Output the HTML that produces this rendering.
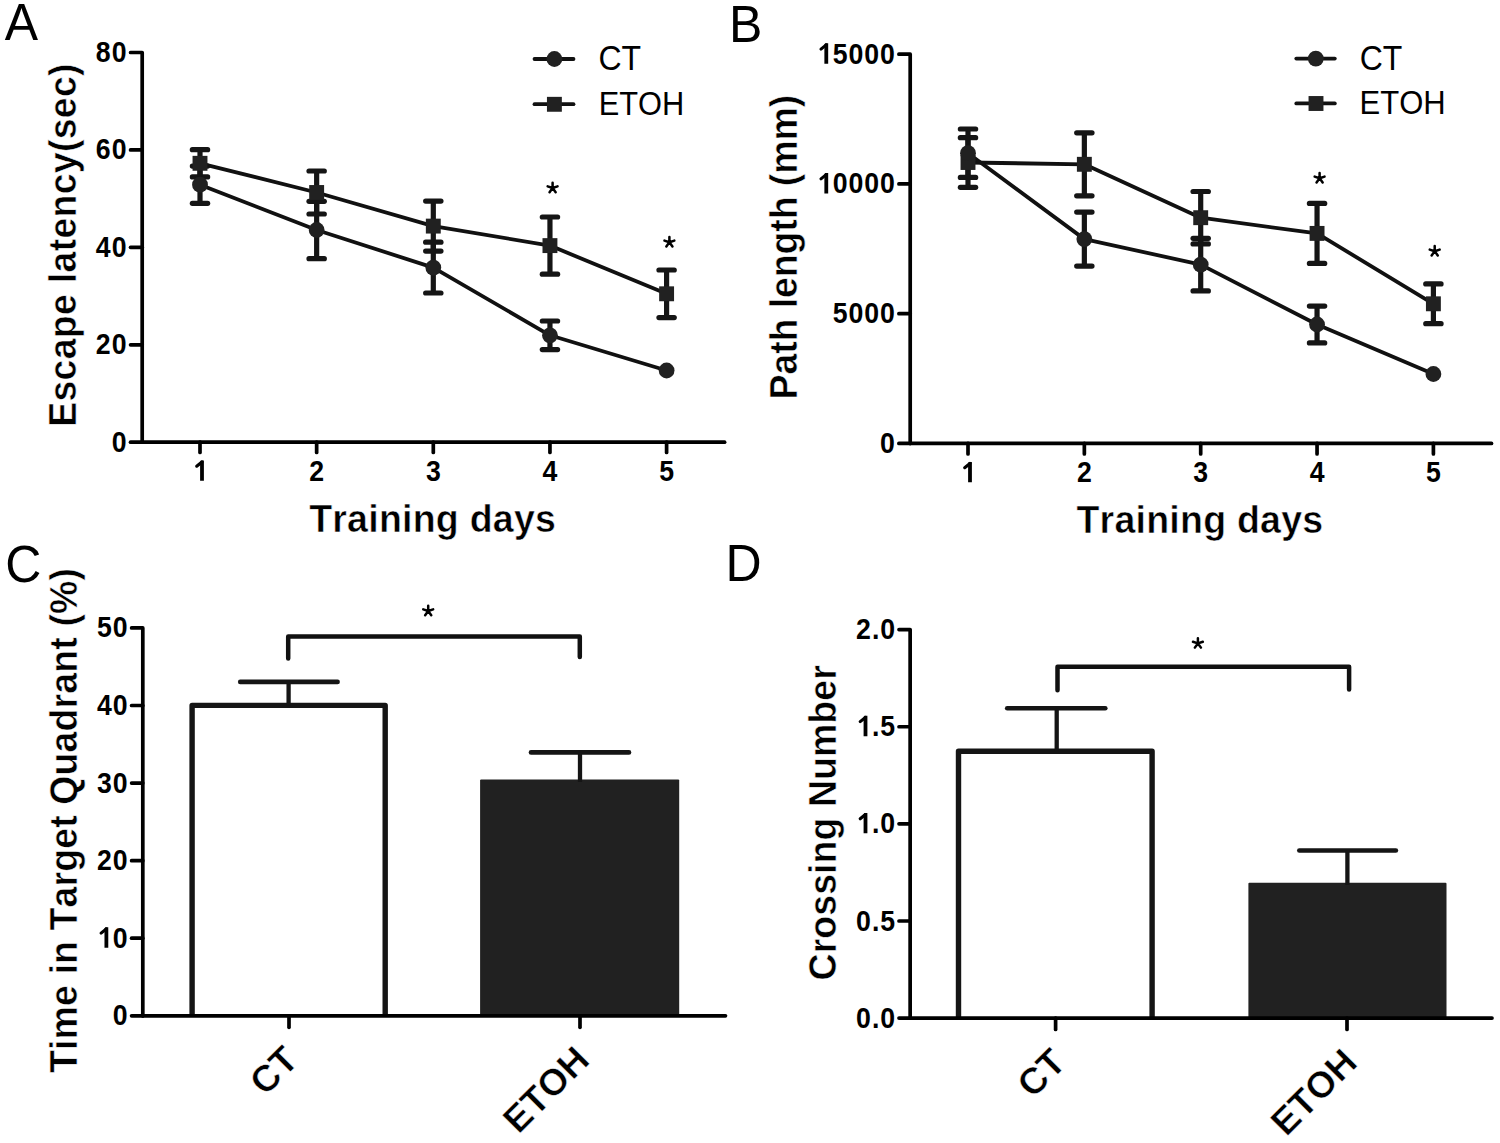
<!DOCTYPE html>
<html><head><meta charset="utf-8"><title>Figure</title>
<style>html,body{margin:0;padding:0;background:#fff;}svg{display:block;}
text{font-family:"Liberation Sans",sans-serif;fill:#000;font-kerning:none;}
text.b{stroke:#fff;stroke-width:0.5px;stroke-linejoin:round;}</style></head>
<body>
<svg width="1500" height="1143" viewBox="0 0 1500 1143">
<rect width="1500" height="1143" fill="#fff"/>
<text transform="translate(4.80,39.50) scale(1.0,1.02)" font-size="50" text-anchor="start" font-weight="normal" >A</text>
<path d="M130.55,52.50 L142.20,52.50 L142.20,442.22" fill="none" stroke="#000" stroke-width="3.7" stroke-linecap="round" stroke-linejoin="round"/>
<text transform="translate(127.47,62.01) scale(0.97,1.09)" font-size="27.5" text-anchor="end" font-weight="bold" letter-spacing="1.0" >80</text>
<line x1="130.55" y1="149.93" x2="142.20" y2="149.93" stroke="#000" stroke-width="3.7" stroke-linecap="round"/>
<text transform="translate(127.47,159.44) scale(0.97,1.09)" font-size="27.5" text-anchor="end" font-weight="bold" letter-spacing="1.0" >60</text>
<line x1="130.55" y1="247.36" x2="142.20" y2="247.36" stroke="#000" stroke-width="3.7" stroke-linecap="round"/>
<text transform="translate(127.47,256.87) scale(0.97,1.09)" font-size="27.5" text-anchor="end" font-weight="bold" letter-spacing="1.0" >40</text>
<line x1="130.55" y1="344.79" x2="142.20" y2="344.79" stroke="#000" stroke-width="3.7" stroke-linecap="round"/>
<text transform="translate(127.47,354.30) scale(0.97,1.09)" font-size="27.5" text-anchor="end" font-weight="bold" letter-spacing="1.0" >20</text>
<line x1="130.55" y1="442.22" x2="142.20" y2="442.22" stroke="#000" stroke-width="3.7" stroke-linecap="round"/>
<text transform="translate(127.47,451.73) scale(0.97,1.09)" font-size="27.5" text-anchor="end" font-weight="bold" letter-spacing="1.0" >0</text>
<line x1="142.20" y1="442.22" x2="724.60" y2="442.22" stroke="#000" stroke-width="3.7" stroke-linecap="round"/>
<line x1="200.00" y1="442.22" x2="200.00" y2="452.50" stroke="#000" stroke-width="3.7" stroke-linecap="round"/>
<line x1="316.65" y1="442.22" x2="316.65" y2="452.50" stroke="#000" stroke-width="3.7" stroke-linecap="round"/>
<line x1="433.30" y1="442.22" x2="433.30" y2="452.50" stroke="#000" stroke-width="3.7" stroke-linecap="round"/>
<line x1="549.95" y1="442.22" x2="549.95" y2="452.50" stroke="#000" stroke-width="3.7" stroke-linecap="round"/>
<line x1="666.60" y1="442.22" x2="666.60" y2="452.50" stroke="#000" stroke-width="3.7" stroke-linecap="round"/>
<text transform="translate(200.49,480.80) scale(0.97,1.09)" font-size="27.5" text-anchor="middle" font-weight="bold" letter-spacing="1.0" > </text>
<g transform="translate(200.00,480.80)"><path d="M0.1,0 L3.9,0 L3.9,-20.4 L0.9,-20.4 L0.1,-19.2 Z" fill="#000"/><line x1="1.9" y1="-18.8" x2="-3.3" y2="-14.6" stroke="#000" stroke-width="3.1" stroke-linecap="round"/></g>
<text transform="translate(317.13,480.80) scale(0.97,1.09)" font-size="27.5" text-anchor="middle" font-weight="bold" letter-spacing="1.0" >2</text>
<text transform="translate(433.79,480.80) scale(0.97,1.09)" font-size="27.5" text-anchor="middle" font-weight="bold" letter-spacing="1.0" >3</text>
<text transform="translate(550.44,480.80) scale(0.97,1.09)" font-size="27.5" text-anchor="middle" font-weight="bold" letter-spacing="1.0" >4</text>
<text transform="translate(667.09,480.80) scale(0.97,1.09)" font-size="27.5" text-anchor="middle" font-weight="bold" letter-spacing="1.0" >5</text>
<text class="b" transform="translate(75.70,245.00) rotate(-90) scale(1,1.03)" font-size="37.5" font-weight="bold" text-anchor="middle" letter-spacing="0.28">Escape latency(sec)</text>
<text class="b" transform="translate(432.60,532.30) scale(1.0,1.03)" font-size="37.5" text-anchor="middle" font-weight="bold" letter-spacing="0.25" >Training days</text>
<line x1="534.50" y1="59.00" x2="573.50" y2="59.00" stroke="#111" stroke-width="3.8" stroke-linecap="round"/>
<circle cx="554.40" cy="59.00" r="7.9" fill="#212121"/>
<line x1="534.50" y1="104.20" x2="573.50" y2="104.20" stroke="#111" stroke-width="3.8" stroke-linecap="round"/>
<rect x="546.95" y="96.85" width="14.9" height="14.9" fill="#212121"/>
<text transform="translate(598.50,69.90) scale(1.0,1.075)" font-size="32" text-anchor="start" font-weight="normal" >CT</text>
<text transform="translate(598.70,114.60) scale(0.962,1.035)" font-size="32" text-anchor="start" font-weight="normal" >ETOH</text>
<line x1="200.00" y1="149.70" x2="200.00" y2="176.90" stroke="#151515" stroke-width="5.2" stroke-linecap="butt"/>
<line x1="192.35" y1="149.70" x2="207.65" y2="149.70" stroke="#151515" stroke-width="5.2" stroke-linecap="round"/>
<line x1="192.35" y1="176.90" x2="207.65" y2="176.90" stroke="#151515" stroke-width="5.2" stroke-linecap="round"/>
<line x1="316.65" y1="171.00" x2="316.65" y2="214.00" stroke="#151515" stroke-width="5.2" stroke-linecap="butt"/>
<line x1="309.00" y1="171.00" x2="324.30" y2="171.00" stroke="#151515" stroke-width="5.2" stroke-linecap="round"/>
<line x1="309.00" y1="214.00" x2="324.30" y2="214.00" stroke="#151515" stroke-width="5.2" stroke-linecap="round"/>
<line x1="433.30" y1="201.10" x2="433.30" y2="251.10" stroke="#151515" stroke-width="5.2" stroke-linecap="butt"/>
<line x1="425.65" y1="201.10" x2="440.95" y2="201.10" stroke="#151515" stroke-width="5.2" stroke-linecap="round"/>
<line x1="425.65" y1="251.10" x2="440.95" y2="251.10" stroke="#151515" stroke-width="5.2" stroke-linecap="round"/>
<line x1="549.95" y1="217.00" x2="549.95" y2="274.20" stroke="#151515" stroke-width="5.2" stroke-linecap="butt"/>
<line x1="542.30" y1="217.00" x2="557.60" y2="217.00" stroke="#151515" stroke-width="5.2" stroke-linecap="round"/>
<line x1="542.30" y1="274.20" x2="557.60" y2="274.20" stroke="#151515" stroke-width="5.2" stroke-linecap="round"/>
<line x1="666.60" y1="270.00" x2="666.60" y2="317.60" stroke="#151515" stroke-width="5.2" stroke-linecap="butt"/>
<line x1="658.95" y1="270.00" x2="674.25" y2="270.00" stroke="#151515" stroke-width="5.2" stroke-linecap="round"/>
<line x1="658.95" y1="317.60" x2="674.25" y2="317.60" stroke="#151515" stroke-width="5.2" stroke-linecap="round"/>
<line x1="200.00" y1="166.10" x2="200.00" y2="203.30" stroke="#151515" stroke-width="5.2" stroke-linecap="butt"/>
<line x1="192.35" y1="166.10" x2="207.65" y2="166.10" stroke="#151515" stroke-width="5.2" stroke-linecap="round"/>
<line x1="192.35" y1="203.30" x2="207.65" y2="203.30" stroke="#151515" stroke-width="5.2" stroke-linecap="round"/>
<line x1="316.65" y1="201.30" x2="316.65" y2="258.70" stroke="#151515" stroke-width="5.2" stroke-linecap="butt"/>
<line x1="309.00" y1="201.30" x2="324.30" y2="201.30" stroke="#151515" stroke-width="5.2" stroke-linecap="round"/>
<line x1="309.00" y1="258.70" x2="324.30" y2="258.70" stroke="#151515" stroke-width="5.2" stroke-linecap="round"/>
<line x1="433.30" y1="242.20" x2="433.30" y2="293.00" stroke="#151515" stroke-width="5.2" stroke-linecap="butt"/>
<line x1="425.65" y1="242.20" x2="440.95" y2="242.20" stroke="#151515" stroke-width="5.2" stroke-linecap="round"/>
<line x1="425.65" y1="293.00" x2="440.95" y2="293.00" stroke="#151515" stroke-width="5.2" stroke-linecap="round"/>
<line x1="549.95" y1="321.00" x2="549.95" y2="349.60" stroke="#151515" stroke-width="5.2" stroke-linecap="butt"/>
<line x1="542.30" y1="321.00" x2="557.60" y2="321.00" stroke="#151515" stroke-width="5.2" stroke-linecap="round"/>
<line x1="542.30" y1="349.60" x2="557.60" y2="349.60" stroke="#151515" stroke-width="5.2" stroke-linecap="round"/>
<polyline points="200.00,163.30 316.65,192.50 433.30,226.10 549.95,245.60 666.60,293.80" fill="none" stroke="#111" stroke-width="3.8" stroke-linejoin="round"/>
<polyline points="200.00,184.70 316.65,230.00 433.30,267.60 549.95,335.30 666.60,370.50" fill="none" stroke="#111" stroke-width="3.8" stroke-linejoin="round"/>
<rect x="192.55" y="155.85" width="14.9" height="14.9" fill="#212121"/>
<rect x="309.20" y="185.05" width="14.9" height="14.9" fill="#212121"/>
<rect x="425.85" y="218.65" width="14.9" height="14.9" fill="#212121"/>
<rect x="542.50" y="238.15" width="14.9" height="14.9" fill="#212121"/>
<rect x="659.15" y="286.35" width="14.9" height="14.9" fill="#212121"/>
<circle cx="200.00" cy="184.70" r="7.9" fill="#212121"/>
<circle cx="316.65" cy="230.00" r="7.9" fill="#212121"/>
<circle cx="433.30" cy="267.60" r="7.9" fill="#212121"/>
<circle cx="549.95" cy="335.30" r="7.9" fill="#212121"/>
<circle cx="666.60" cy="370.50" r="7.9" fill="#212121"/>
<path d="M552.60,188.00 L552.60,182.80 M552.60,188.00 L557.55,186.39 M552.60,188.00 L555.66,192.21 M552.60,188.00 L549.54,192.21 M552.60,188.00 L547.65,186.39" stroke="#000" stroke-width="2.5" stroke-linecap="round" fill="none"/>
<path d="M669.40,242.20 L669.40,237.00 M669.40,242.20 L674.35,240.59 M669.40,242.20 L672.46,246.41 M669.40,242.20 L666.34,246.41 M669.40,242.20 L664.45,240.59" stroke="#000" stroke-width="2.5" stroke-linecap="round" fill="none"/>
<text transform="translate(729.00,41.50) scale(1.0,1.02)" font-size="50" text-anchor="start" font-weight="normal" >B</text>
<path d="M898.90,54.20 L910.20,54.20 L910.20,443.39" fill="none" stroke="#000" stroke-width="3.7" stroke-linecap="round" stroke-linejoin="round"/>
<text transform="translate(895.87,63.71) scale(0.97,1.09)" font-size="27.5" text-anchor="end" font-weight="bold" letter-spacing="1.0" > 5000</text>
<g transform="translate(824.28,63.71)"><path d="M0.1,0 L3.9,0 L3.9,-20.4 L0.9,-20.4 L0.1,-19.2 Z" fill="#000"/><line x1="1.9" y1="-18.8" x2="-3.3" y2="-14.6" stroke="#000" stroke-width="3.1" stroke-linecap="round"/></g>
<line x1="898.90" y1="183.93" x2="910.20" y2="183.93" stroke="#000" stroke-width="3.7" stroke-linecap="round"/>
<text transform="translate(895.87,193.44) scale(0.97,1.09)" font-size="27.5" text-anchor="end" font-weight="bold" letter-spacing="1.0" > 0000</text>
<g transform="translate(824.28,193.44)"><path d="M0.1,0 L3.9,0 L3.9,-20.4 L0.9,-20.4 L0.1,-19.2 Z" fill="#000"/><line x1="1.9" y1="-18.8" x2="-3.3" y2="-14.6" stroke="#000" stroke-width="3.1" stroke-linecap="round"/></g>
<line x1="898.90" y1="313.66" x2="910.20" y2="313.66" stroke="#000" stroke-width="3.7" stroke-linecap="round"/>
<text transform="translate(895.87,323.17) scale(0.97,1.09)" font-size="27.5" text-anchor="end" font-weight="bold" letter-spacing="1.0" >5000</text>
<line x1="898.90" y1="443.39" x2="910.20" y2="443.39" stroke="#000" stroke-width="3.7" stroke-linecap="round"/>
<text transform="translate(895.87,452.90) scale(0.97,1.09)" font-size="27.5" text-anchor="end" font-weight="bold" letter-spacing="1.0" >0</text>
<line x1="910.20" y1="443.39" x2="1491.50" y2="443.39" stroke="#000" stroke-width="3.7" stroke-linecap="round"/>
<line x1="968.00" y1="443.39" x2="968.00" y2="454.00" stroke="#000" stroke-width="3.7" stroke-linecap="round"/>
<line x1="1084.35" y1="443.39" x2="1084.35" y2="454.00" stroke="#000" stroke-width="3.7" stroke-linecap="round"/>
<line x1="1200.70" y1="443.39" x2="1200.70" y2="454.00" stroke="#000" stroke-width="3.7" stroke-linecap="round"/>
<line x1="1317.05" y1="443.39" x2="1317.05" y2="454.00" stroke="#000" stroke-width="3.7" stroke-linecap="round"/>
<line x1="1433.40" y1="443.39" x2="1433.40" y2="454.00" stroke="#000" stroke-width="3.7" stroke-linecap="round"/>
<text transform="translate(968.49,482.30) scale(0.97,1.09)" font-size="27.5" text-anchor="middle" font-weight="bold" letter-spacing="1.0" > </text>
<g transform="translate(968.00,482.30)"><path d="M0.1,0 L3.9,0 L3.9,-20.4 L0.9,-20.4 L0.1,-19.2 Z" fill="#000"/><line x1="1.9" y1="-18.8" x2="-3.3" y2="-14.6" stroke="#000" stroke-width="3.1" stroke-linecap="round"/></g>
<text transform="translate(1084.83,482.30) scale(0.97,1.09)" font-size="27.5" text-anchor="middle" font-weight="bold" letter-spacing="1.0" >2</text>
<text transform="translate(1201.18,482.30) scale(0.97,1.09)" font-size="27.5" text-anchor="middle" font-weight="bold" letter-spacing="1.0" >3</text>
<text transform="translate(1317.53,482.30) scale(0.97,1.09)" font-size="27.5" text-anchor="middle" font-weight="bold" letter-spacing="1.0" >4</text>
<text transform="translate(1433.88,482.30) scale(0.97,1.09)" font-size="27.5" text-anchor="middle" font-weight="bold" letter-spacing="1.0" >5</text>
<text class="b" transform="translate(797.40,247.20) rotate(-90) scale(1,1.03)" font-size="37.5" font-weight="bold" text-anchor="middle" letter-spacing="-0.1">Path length (mm)</text>
<text class="b" transform="translate(1199.90,533.30) scale(1.0,1.03)" font-size="37.5" text-anchor="middle" font-weight="bold" letter-spacing="0.25" >Training days</text>
<line x1="1296.30" y1="58.60" x2="1334.80" y2="58.60" stroke="#111" stroke-width="3.8" stroke-linecap="round"/>
<circle cx="1315.80" cy="58.60" r="7.9" fill="#212121"/>
<line x1="1296.30" y1="103.40" x2="1334.80" y2="103.40" stroke="#111" stroke-width="3.8" stroke-linecap="round"/>
<rect x="1308.55" y="96.05" width="14.9" height="14.9" fill="#212121"/>
<text transform="translate(1359.70,69.50) scale(1.0,1.075)" font-size="32" text-anchor="start" font-weight="normal" >CT</text>
<text transform="translate(1359.60,114.00) scale(0.97,1.035)" font-size="32" text-anchor="start" font-weight="normal" >ETOH</text>
<line x1="968.00" y1="137.70" x2="968.00" y2="187.30" stroke="#151515" stroke-width="5.2" stroke-linecap="butt"/>
<line x1="960.35" y1="137.70" x2="975.65" y2="137.70" stroke="#151515" stroke-width="5.2" stroke-linecap="round"/>
<line x1="960.35" y1="187.30" x2="975.65" y2="187.30" stroke="#151515" stroke-width="5.2" stroke-linecap="round"/>
<line x1="1084.35" y1="132.80" x2="1084.35" y2="195.80" stroke="#151515" stroke-width="5.2" stroke-linecap="butt"/>
<line x1="1076.70" y1="132.80" x2="1092.00" y2="132.80" stroke="#151515" stroke-width="5.2" stroke-linecap="round"/>
<line x1="1076.70" y1="195.80" x2="1092.00" y2="195.80" stroke="#151515" stroke-width="5.2" stroke-linecap="round"/>
<line x1="1200.70" y1="191.50" x2="1200.70" y2="243.90" stroke="#151515" stroke-width="5.2" stroke-linecap="butt"/>
<line x1="1193.05" y1="191.50" x2="1208.35" y2="191.50" stroke="#151515" stroke-width="5.2" stroke-linecap="round"/>
<line x1="1193.05" y1="243.90" x2="1208.35" y2="243.90" stroke="#151515" stroke-width="5.2" stroke-linecap="round"/>
<line x1="1317.05" y1="203.40" x2="1317.05" y2="263.40" stroke="#151515" stroke-width="5.2" stroke-linecap="butt"/>
<line x1="1309.40" y1="203.40" x2="1324.70" y2="203.40" stroke="#151515" stroke-width="5.2" stroke-linecap="round"/>
<line x1="1309.40" y1="263.40" x2="1324.70" y2="263.40" stroke="#151515" stroke-width="5.2" stroke-linecap="round"/>
<line x1="1433.40" y1="283.90" x2="1433.40" y2="323.70" stroke="#151515" stroke-width="5.2" stroke-linecap="butt"/>
<line x1="1425.75" y1="283.90" x2="1441.05" y2="283.90" stroke="#151515" stroke-width="5.2" stroke-linecap="round"/>
<line x1="1425.75" y1="323.70" x2="1441.05" y2="323.70" stroke="#151515" stroke-width="5.2" stroke-linecap="round"/>
<line x1="968.00" y1="129.00" x2="968.00" y2="177.40" stroke="#151515" stroke-width="5.2" stroke-linecap="butt"/>
<line x1="960.35" y1="129.00" x2="975.65" y2="129.00" stroke="#151515" stroke-width="5.2" stroke-linecap="round"/>
<line x1="960.35" y1="177.40" x2="975.65" y2="177.40" stroke="#151515" stroke-width="5.2" stroke-linecap="round"/>
<line x1="1084.35" y1="212.10" x2="1084.35" y2="266.10" stroke="#151515" stroke-width="5.2" stroke-linecap="butt"/>
<line x1="1076.70" y1="212.10" x2="1092.00" y2="212.10" stroke="#151515" stroke-width="5.2" stroke-linecap="round"/>
<line x1="1076.70" y1="266.10" x2="1092.00" y2="266.10" stroke="#151515" stroke-width="5.2" stroke-linecap="round"/>
<line x1="1200.70" y1="238.30" x2="1200.70" y2="290.90" stroke="#151515" stroke-width="5.2" stroke-linecap="butt"/>
<line x1="1193.05" y1="238.30" x2="1208.35" y2="238.30" stroke="#151515" stroke-width="5.2" stroke-linecap="round"/>
<line x1="1193.05" y1="290.90" x2="1208.35" y2="290.90" stroke="#151515" stroke-width="5.2" stroke-linecap="round"/>
<line x1="1317.05" y1="306.10" x2="1317.05" y2="342.90" stroke="#151515" stroke-width="5.2" stroke-linecap="butt"/>
<line x1="1309.40" y1="306.10" x2="1324.70" y2="306.10" stroke="#151515" stroke-width="5.2" stroke-linecap="round"/>
<line x1="1309.40" y1="342.90" x2="1324.70" y2="342.90" stroke="#151515" stroke-width="5.2" stroke-linecap="round"/>
<polyline points="968.00,162.50 1084.35,164.30 1200.70,217.70 1317.05,233.40 1433.40,303.80" fill="none" stroke="#111" stroke-width="3.8" stroke-linejoin="round"/>
<polyline points="968.00,153.20 1084.35,239.10 1200.70,264.60 1317.05,324.50 1433.40,374.00" fill="none" stroke="#111" stroke-width="3.8" stroke-linejoin="round"/>
<rect x="960.55" y="155.05" width="14.9" height="14.9" fill="#212121"/>
<rect x="1076.90" y="156.85" width="14.9" height="14.9" fill="#212121"/>
<rect x="1193.25" y="210.25" width="14.9" height="14.9" fill="#212121"/>
<rect x="1309.60" y="225.95" width="14.9" height="14.9" fill="#212121"/>
<rect x="1425.95" y="296.35" width="14.9" height="14.9" fill="#212121"/>
<circle cx="968.00" cy="153.20" r="7.9" fill="#212121"/>
<circle cx="1084.35" cy="239.10" r="7.9" fill="#212121"/>
<circle cx="1200.70" cy="264.60" r="7.9" fill="#212121"/>
<circle cx="1317.05" cy="324.50" r="7.9" fill="#212121"/>
<circle cx="1433.40" cy="374.00" r="7.9" fill="#212121"/>
<path d="M1319.60,178.20 L1319.60,173.00 M1319.60,178.20 L1324.55,176.59 M1319.60,178.20 L1322.66,182.41 M1319.60,178.20 L1316.54,182.41 M1319.60,178.20 L1314.65,176.59" stroke="#000" stroke-width="2.5" stroke-linecap="round" fill="none"/>
<path d="M1434.70,251.20 L1434.70,246.00 M1434.70,251.20 L1439.65,249.59 M1434.70,251.20 L1437.76,255.41 M1434.70,251.20 L1431.64,255.41 M1434.70,251.20 L1429.75,249.59" stroke="#000" stroke-width="2.5" stroke-linecap="round" fill="none"/>
<text transform="translate(5.20,581.80) scale(1.0,1.02)" font-size="50" text-anchor="start" font-weight="normal" >C</text>
<path d="M131.60,627.90 L142.80,627.90 L142.80,1015.80" fill="none" stroke="#000" stroke-width="3.7" stroke-linecap="round" stroke-linejoin="round"/>
<text transform="translate(128.57,637.41) scale(0.97,1.09)" font-size="27.5" text-anchor="end" font-weight="bold" letter-spacing="1.0" >50</text>
<line x1="131.60" y1="705.48" x2="142.80" y2="705.48" stroke="#000" stroke-width="3.7" stroke-linecap="round"/>
<text transform="translate(128.57,714.99) scale(0.97,1.09)" font-size="27.5" text-anchor="end" font-weight="bold" letter-spacing="1.0" >40</text>
<line x1="131.60" y1="783.06" x2="142.80" y2="783.06" stroke="#000" stroke-width="3.7" stroke-linecap="round"/>
<text transform="translate(128.57,792.57) scale(0.97,1.09)" font-size="27.5" text-anchor="end" font-weight="bold" letter-spacing="1.0" >30</text>
<line x1="131.60" y1="860.64" x2="142.80" y2="860.64" stroke="#000" stroke-width="3.7" stroke-linecap="round"/>
<text transform="translate(128.57,870.15) scale(0.97,1.09)" font-size="27.5" text-anchor="end" font-weight="bold" letter-spacing="1.0" >20</text>
<line x1="131.60" y1="938.22" x2="142.80" y2="938.22" stroke="#000" stroke-width="3.7" stroke-linecap="round"/>
<text transform="translate(128.57,947.73) scale(0.97,1.09)" font-size="27.5" text-anchor="end" font-weight="bold" letter-spacing="1.0" > 0</text>
<g transform="translate(104.38,947.73)"><path d="M0.1,0 L3.9,0 L3.9,-20.4 L0.9,-20.4 L0.1,-19.2 Z" fill="#000"/><line x1="1.9" y1="-18.8" x2="-3.3" y2="-14.6" stroke="#000" stroke-width="3.1" stroke-linecap="round"/></g>
<line x1="131.60" y1="1015.80" x2="142.80" y2="1015.80" stroke="#000" stroke-width="3.7" stroke-linecap="round"/>
<text transform="translate(128.57,1025.31) scale(0.97,1.09)" font-size="27.5" text-anchor="end" font-weight="bold" letter-spacing="1.0" >0</text>
<path d="M192.1,1015.5 L192.1,705.4 L385.2,705.4 L385.2,1015.5" fill="none" stroke="#151515" stroke-width="5.4" stroke-linejoin="round"/>
<rect x="480.1" y="779.6" width="199.1" height="236" rx="1" fill="#212121"/>
<line x1="142.80" y1="1015.80" x2="725.50" y2="1015.80" stroke="#000" stroke-width="3.7" stroke-linecap="round"/>
<line x1="289.00" y1="1015.80" x2="289.00" y2="1027.30" stroke="#000" stroke-width="3.7" stroke-linecap="round"/>
<line x1="580.00" y1="1015.80" x2="580.00" y2="1027.30" stroke="#000" stroke-width="3.7" stroke-linecap="round"/>
<line x1="288.60" y1="705.30" x2="288.60" y2="681.90" stroke="#151515" stroke-width="4.3" stroke-linecap="butt"/>
<line x1="240.20" y1="681.90" x2="337.60" y2="681.90" stroke="#151515" stroke-width="4.6" stroke-linecap="round"/>
<line x1="580.00" y1="782.00" x2="580.00" y2="752.40" stroke="#151515" stroke-width="4.3" stroke-linecap="butt"/>
<line x1="531.00" y1="752.40" x2="629.00" y2="752.40" stroke="#151515" stroke-width="4.6" stroke-linecap="round"/>
<path d="M288.2,658.6 L288.2,636.6 L579.8,636.6 L579.8,657" fill="none" stroke="#111" stroke-width="4.5" stroke-linecap="round" stroke-linejoin="round"/>
<path d="M428.20,611.00 L428.20,605.80 M428.20,611.00 L433.15,609.39 M428.20,611.00 L431.26,615.21 M428.20,611.00 L425.14,615.21 M428.20,611.00 L423.25,609.39" stroke="#000" stroke-width="2.5" stroke-linecap="round" fill="none"/>
<text class="b" transform="translate(77.00,820.50) rotate(-90) scale(1,1.03)" font-size="37.5" font-weight="bold" text-anchor="middle" letter-spacing="0.12">Time in Target Quadrant (%)</text>
<text class="b" transform="translate(300.30,1061.90) rotate(-45)" font-size="37.2" font-weight="bold" text-anchor="end">CT</text>
<text class="b" transform="translate(591.50,1061.90) rotate(-45)" font-size="37.2" font-weight="bold" text-anchor="end">ETOH</text>
<text transform="translate(725.60,581.00) scale(1.0,1.02)" font-size="50" text-anchor="start" font-weight="normal" >D</text>
<path d="M899.00,629.60 L910.15,629.60 L910.15,1018.12" fill="none" stroke="#000" stroke-width="3.7" stroke-linecap="round" stroke-linejoin="round"/>
<text transform="translate(896.07,639.11) scale(0.97,1.09)" font-size="27.5" text-anchor="end" font-weight="bold" letter-spacing="1.0" >2.0</text>
<line x1="899.00" y1="726.73" x2="910.15" y2="726.73" stroke="#000" stroke-width="3.7" stroke-linecap="round"/>
<text transform="translate(896.07,736.24) scale(0.97,1.09)" font-size="27.5" text-anchor="end" font-weight="bold" letter-spacing="1.0" > .5</text>
<g transform="translate(863.50,736.24)"><path d="M0.1,0 L3.9,0 L3.9,-20.4 L0.9,-20.4 L0.1,-19.2 Z" fill="#000"/><line x1="1.9" y1="-18.8" x2="-3.3" y2="-14.6" stroke="#000" stroke-width="3.1" stroke-linecap="round"/></g>
<line x1="899.00" y1="823.86" x2="910.15" y2="823.86" stroke="#000" stroke-width="3.7" stroke-linecap="round"/>
<text transform="translate(896.07,833.37) scale(0.97,1.09)" font-size="27.5" text-anchor="end" font-weight="bold" letter-spacing="1.0" > .0</text>
<g transform="translate(863.50,833.37)"><path d="M0.1,0 L3.9,0 L3.9,-20.4 L0.9,-20.4 L0.1,-19.2 Z" fill="#000"/><line x1="1.9" y1="-18.8" x2="-3.3" y2="-14.6" stroke="#000" stroke-width="3.1" stroke-linecap="round"/></g>
<line x1="899.00" y1="920.99" x2="910.15" y2="920.99" stroke="#000" stroke-width="3.7" stroke-linecap="round"/>
<text transform="translate(896.07,930.50) scale(0.97,1.09)" font-size="27.5" text-anchor="end" font-weight="bold" letter-spacing="1.0" >0.5</text>
<line x1="899.00" y1="1018.12" x2="910.15" y2="1018.12" stroke="#000" stroke-width="3.7" stroke-linecap="round"/>
<text transform="translate(896.07,1027.63) scale(0.97,1.09)" font-size="27.5" text-anchor="end" font-weight="bold" letter-spacing="1.0" >0.0</text>
<path d="M958.5,1018.5 L958.5,751.2 L1152.1,751.2 L1152.1,1018.5" fill="none" stroke="#151515" stroke-width="5.4" stroke-linejoin="round"/>
<rect x="1248.4" y="882.7" width="198.1" height="135.8" rx="1" fill="#212121"/>
<line x1="910.15" y1="1018.12" x2="1492.00" y2="1018.12" stroke="#000" stroke-width="3.7" stroke-linecap="round"/>
<line x1="1055.60" y1="1018.12" x2="1055.60" y2="1029.50" stroke="#000" stroke-width="3.7" stroke-linecap="round"/>
<line x1="1347.00" y1="1018.12" x2="1347.00" y2="1029.50" stroke="#000" stroke-width="3.7" stroke-linecap="round"/>
<line x1="1056.70" y1="751.00" x2="1056.70" y2="708.30" stroke="#151515" stroke-width="4.3" stroke-linecap="butt"/>
<line x1="1007.20" y1="708.30" x2="1105.30" y2="708.30" stroke="#151515" stroke-width="4.6" stroke-linecap="round"/>
<line x1="1347.40" y1="885.00" x2="1347.40" y2="850.50" stroke="#151515" stroke-width="4.3" stroke-linecap="butt"/>
<line x1="1299.30" y1="850.50" x2="1395.90" y2="850.50" stroke="#151515" stroke-width="4.6" stroke-linecap="round"/>
<path d="M1057.5,690.3 L1057.5,666.7 L1349.1,666.7 L1349.1,689.5" fill="none" stroke="#111" stroke-width="4.5" stroke-linecap="round" stroke-linejoin="round"/>
<path d="M1197.90,643.40 L1197.90,638.20 M1197.90,643.40 L1202.85,641.79 M1197.90,643.40 L1200.96,647.61 M1197.90,643.40 L1194.84,647.61 M1197.90,643.40 L1192.95,641.79" stroke="#000" stroke-width="2.5" stroke-linecap="round" fill="none"/>
<text class="b" transform="translate(836.20,822.80) rotate(-90) scale(1,1.03)" font-size="37.5" font-weight="bold" text-anchor="middle" letter-spacing="0.05">Crossing Number</text>
<text class="b" transform="translate(1067.90,1064.40) rotate(-45)" font-size="37.2" font-weight="bold" text-anchor="end">CT</text>
<text class="b" transform="translate(1359.30,1064.40) rotate(-45)" font-size="37.2" font-weight="bold" text-anchor="end">ETOH</text>
</svg>
</body></html>
